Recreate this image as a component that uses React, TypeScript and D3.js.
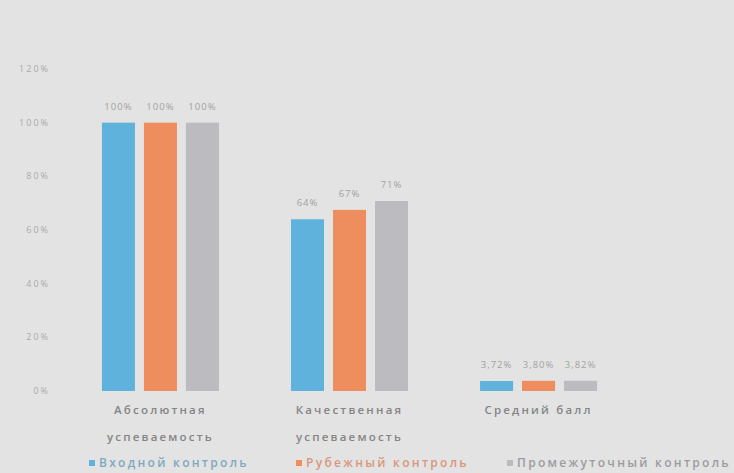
import React from "react";
import * as d3 from "d3";

const categories = [["Абсолютная", "успеваемость"], ["Качественная", "успеваемость"], ["Средний балл"]];
const seriesNames = ["Входной контроль", "Рубежный контроль", "Промежуточный контроль"];
const seriesColors = ["#5fb2dc", "#ee8d5d", "#bcbcc0"];
const legendTextColors = ["#80a8c0", "#d8977c", "#9c9ca0"];
const vhod = [100, 64, 3.72];
const rubezh = [100, 67.5, 3.8];
const promezh = [100, 70.8, 3.82];
const valueLabels = [
  ["100%", "100%", "100%"],
  ["64%", "67%", "71%"],
  ["3,72%", "3,80%", "3,82%"],
];
const yTicks = [0, 20, 40, 60, 80, 100, 120];

const W = 734, H = 473;
const margin = { left: 66, right: 101, top: 69, bottom: 82 };

export default function App() {
  const series = [vhod, rubezh, promezh];
  const x0 = d3.scaleBand<number>().domain([0, 1, 2]).range([margin.left, W - margin.right]).paddingInner(0.381).paddingOuter(0.19);
  const x1 = d3.scaleBand<number>().domain([0, 1, 2]).range([0, x0.bandwidth()]).paddingInner(0.214);
  const y = d3.scaleLinear().domain([0, 120]).range([H - margin.bottom, margin.top]);
  const legendX = [89, 296, 507];
  return (
    <svg width={W} height={H} style={{ position: "absolute", left: 0, top: 0, fontFamily: "'Open Sans', sans-serif" }}>
      <rect width={W} height={H} fill="#e3e3e3" />
      {yTicks.map((t) => (
        <text key={t} x={50} y={y(t)} dy="0.35em" textAnchor="end" fontSize={9} letterSpacing={2} fill="#aaaaaa">
          {t}%
        </text>
      ))}
      {categories.map((c, i) =>
        series.map((s, j) => {
          const bx = (x0(i) as number) + (x1(j) as number);
          return (
            <g key={`${i}-${j}`}>
              <rect x={bx} y={y(s[i])} width={x1.bandwidth()} height={y(0) - y(s[i])} fill={seriesColors[j]} />
              <text x={bx + x1.bandwidth() / 2} y={y(s[i]) - 13} textAnchor="middle" fontSize={9.5} letterSpacing={1} fill="#a2a2a2">
                {valueLabels[i][j]}
              </text>
            </g>
          );
        })
      )}
      {categories.map((c, i) => (
        <text key={i} textAnchor="middle" fontSize={11.5} letterSpacing={2.2} fill="#858585" fontWeight={600}>
          {c.map((line, k) => (
            <tspan key={k} x={(x0(i) as number) + x0.bandwidth() / 2} y={414 + k * 27}>
              {line}
            </tspan>
          ))}
        </text>
      ))}
      {seriesNames.map((n, j) => (
        <g key={n}>
          <rect x={legendX[j]} y={460} width={6} height={6} fill={seriesColors[j]} />
          <text x={legendX[j] + 10} y={467} fontSize={12} letterSpacing={2.3} fill={legendTextColors[j]} fontWeight={600}>
            {n}
          </text>
        </g>
      ))}
    </svg>
  );
}
